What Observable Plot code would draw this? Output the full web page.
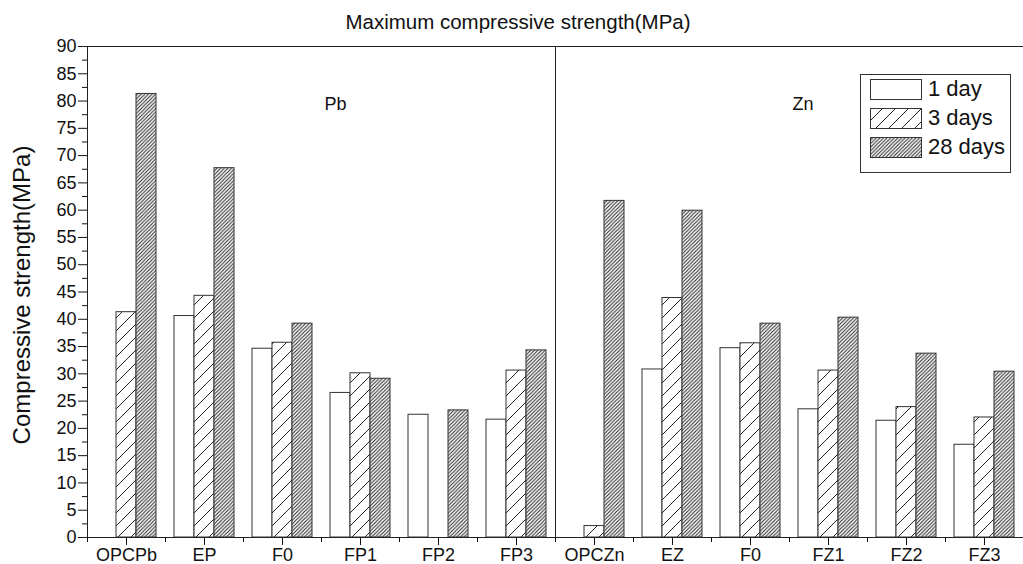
<!DOCTYPE html>
<html>
<head>
<meta charset="utf-8">
<script src="https://cdn.jsdelivr.net/npm/d3@7"></script>
<script src="https://cdn.jsdelivr.net/npm/@observablehq/plot@0.6"></script>
<style>
  html, body { margin: 0; padding: 0; background: #fff; overflow: hidden; }
  #wrap { position: relative; width: 1023px; height: 564px; overflow: hidden;
          font-family: "Liberation Sans", Arial, sans-serif; color: #111; }
  #wrap svg.layer { position: absolute; left: 0; top: 0; }
  #title { position: absolute; top: 10px; left: 0; width: 1036px; text-align: center;
           font-size: 20.5px; white-space: nowrap; }
  #ylabel { position: absolute; left: 22px; top: 295px; transform: translate(-50%, -50%) rotate(-90deg);
            font-size: 24px; white-space: nowrap; }
  #legend { position: absolute; left: 860px; top: 74px; width: 149px; height: 97px;
            border: 1px solid #333; box-sizing: content-box; }
  .lg-sw { position: absolute; left: 9px; }
  .lg-tx { position: absolute; left: 67px; font-size: 22px; line-height: 22px; white-space: nowrap; }
</style>
</head>
<body>
<svg width="0" height="0" style="position:absolute">
  <defs>
    <pattern id="hatch3" patternUnits="userSpaceOnUse" width="13" height="13">
      <rect width="13" height="13" fill="#fff"/>
      <path d="M-1,1 L1,-1 M0,13 L13,0 M12,14 L14,12" stroke="#222" stroke-width="1"/>
    </pattern>
    <pattern id="hatch28" patternUnits="userSpaceOnUse" width="3.6" height="3.6">
      <rect width="3.6" height="3.6" fill="#fff"/>
      <path d="M-1,1 L1,-1 M0,3.6 L3.6,0 M2.6,4.6 L4.6,2.6" stroke="#222" stroke-width="1"/>
    </pattern>
  </defs>
</svg>
<div id="wrap">
  <div id="title"></div>
  <div id="ylabel"></div>
  <div id="legend"></div>
</div>
<script>
// ---------- data ----------
const titleText = "Maximum compressive strength(MPa)";
const yLabelText = "Compressive strength(MPa)";
const groupLabels = ["OPCPb", "EP", "F0", "FP1", "FP2", "FP3", "OPCZn", "EZ", "F0", "FZ1", "FZ2", "FZ3"];
const metals      = ["Pb", "Pb", "Pb", "Pb", "Pb", "Pb", "Zn", "Zn", "Zn", "Zn", "Zn", "Zn"];
const series = ["1 day", "3 days", "28 days"];
const day1  = [null, 40.6, 34.6, 26.5, 22.5, 21.6, null, 30.8, 34.7, 23.5, 21.4, 17.0];
const day3  = [41.3, 44.3, 35.7, 30.1, null, 30.6, 2.1, 43.9, 35.6, 30.6, 23.9, 22.0];
const day28 = [81.3, 67.7, 39.2, 29.1, 23.3, 34.3, 61.7, 59.9, 39.2, 40.3, 33.7, 30.4];
const yMajorTicks = [0, 5, 10, 15, 20, 25, 30, 35, 40, 45, 50, 55, 60, 65, 70, 75, 80, 85, 90];
const metalNotes = [{metal: "Pb", at: "FP1"}, {metal: "Zn", at: "FZ1"}];

// ---------- derived tables ----------
const groupIds = groupLabels.map((g, i) => metals[i] + "-" + g);
const idToLabel = new Map(groupIds.map((id, i) => [id, groupLabels[i]]));
const rows = [];
[day1, day3, day28].forEach((vals, s) => vals.forEach((v, i) => {
  if (v != null) rows.push({group: groupIds[i], series: series[s], value: v});
}));
const yMinorTicks = yMajorTicks.slice(0, -1).map(t => t + 2.5);
const notes = metalNotes.map(n => ({text: n.metal, group: n.metal + "-" + n.at}));
const boundaries = [...groupIds.map(id => "start:" + id), "end"];
const dividerKey = boundaries[groupIds.findIndex(id => id.startsWith("Zn"))];

const fills = ["#fff", "url(#hatch3)", "url(#hatch28)"];
const font = `"Liberation Sans", Arial, sans-serif`;
const W = 1029, H = 564;
const common = {width: W, height: H, marginLeft: 82, marginRight: 1, marginTop: 46, marginBottom: 27};
const svgStyle = {fontFamily: font, fontSize: "18px", color: "#111", background: "transparent",
                  maxWidth: "none", overflow: "visible", height: H + "px"};

// ---------- bars (faceted by group) ----------
const plotA = Plot.plot({
  ...common,
  style: svgStyle,
  fx: {domain: groupIds, padding: 0, label: null},
  x: {domain: series, paddingInner: 0, paddingOuter: 0.38, axis: null},
  y: {domain: [0, 90]},
  color: {domain: series, range: fills},
  marks: [
    Plot.barY(rows, {fx: "group", x: "series", y: "value", fill: "series", stroke: "#333", strokeWidth: 1}),
    Plot.axisY({ticks: yMajorTicks, tickSize: 9, tickPadding: 2, label: null, fontSize: 18}),
    Plot.axisY({ticks: yMinorTicks, tickSize: 5, tickFormat: () => "", label: null}),
    Plot.axisFx({anchor: "bottom", tickSize: 8, tickPadding: 3, tickFormat: id => idToLabel.get(id), label: null, fontSize: 18}),
    Plot.text(notes, {fx: "group", frameAnchor: "left", y: 79.4, text: "text", dx: 3, fontSize: 18, fill: "#111"})
  ]
});
plotA.classList.add("layer");

// ---------- frame lines & group boundary ticks ----------
const plotB = Plot.plot({
  ...common,
  style: svgStyle,
  x: {type: "point", domain: boundaries, padding: 0},
  y: {domain: [0, 90], axis: null},
  marks: [
    Plot.ruleY([0, 90], {stroke: "#222", strokeWidth: 1}),
    Plot.ruleX([boundaries[0], dividerKey], {stroke: "#222", strokeWidth: 1}),
    Plot.axisX({tickSize: 5, tickFormat: () => "", label: null})
  ]
});
plotB.classList.add("layer");

const wrap = document.getElementById("wrap");
wrap.insertBefore(plotB, wrap.firstChild);
wrap.insertBefore(plotA, wrap.firstChild);

document.getElementById("title").textContent = titleText;
document.getElementById("ylabel").textContent = yLabelText;

// ---------- legend ----------
const legend = document.getElementById("legend");
series.forEach((s, i) => {
  const sw = document.createElementNS("http://www.w3.org/2000/svg", "svg");
  sw.setAttribute("class", "lg-sw");
  sw.setAttribute("width", 52); sw.setAttribute("height", 21);
  sw.style.top = (4 + 29 * i) + "px";
  const r = document.createElementNS("http://www.w3.org/2000/svg", "rect");
  r.setAttribute("x", 0.5); r.setAttribute("y", 0.5); r.setAttribute("width", 51); r.setAttribute("height", 20);
  r.setAttribute("fill", fills[i]); r.setAttribute("stroke", "#333");
  sw.appendChild(r);
  legend.appendChild(sw);
  const tx = document.createElement("div");
  tx.className = "lg-tx";
  tx.style.top = (3 + 29 * i) + "px";
  tx.textContent = s;
  legend.appendChild(tx);
});
</script>
</body>
</html>
